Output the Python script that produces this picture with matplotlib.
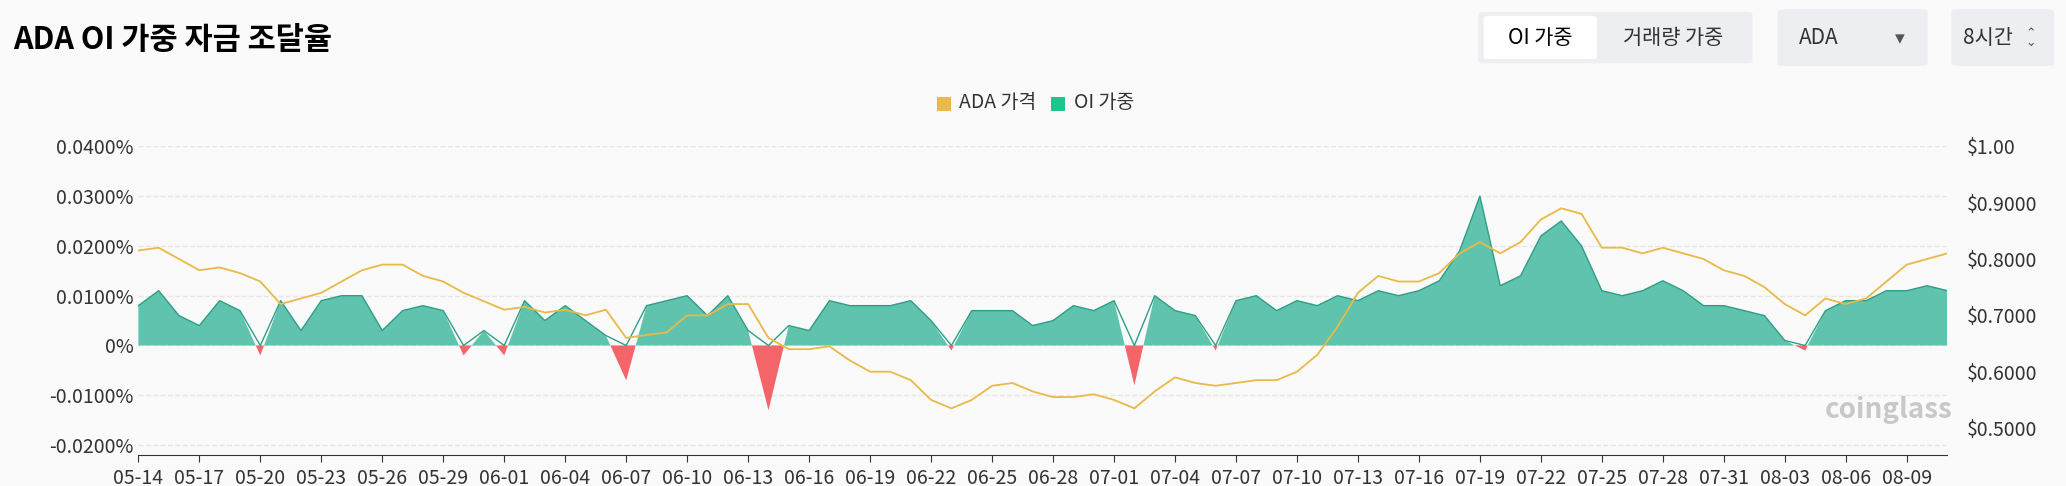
import matplotlib
matplotlib.use("Agg")
import matplotlib.pyplot as plt
import matplotlib.dates as mdates
from matplotlib import font_manager as fm
from matplotlib.patches import FancyBboxPatch, Rectangle
import numpy as np
import pandas as pd

fam = "DejaVu Sans"
for p in fm.findSystemFonts():
    if "CJK" in p and ("Regular" in p or "Bold" in p):
        try:
            fm.fontManager.addfont(p)
        except Exception:
            pass
names = {f.name for f in fm.fontManager.ttflist}
for cand in ["Noto Sans CJK KR", "Noto Sans CJK JP", "Noto Sans CJK SC"]:
    if cand in names:
        fam = cand
        break
plt.rcParams["font.family"] = [fam, "DejaVu Sans"]

start = "2024-05-14"
funding = [0.008,0.011,0.006,0.004,0.009,0.007,-0.002,0.009,0.003,0.009,0.010,0.010,0.003,0.007,0.008,0.007,
           -0.002,0.003,-0.002,0.009,0.005,0.008,0.005,0.002,-0.007,0.008,0.009,0.010,0.006,0.010,0.003,-0.013,
           0.004,0.003,0.009,0.008,0.008,0.008,0.009,0.005,-0.001,0.007,0.007,0.007,0.004,0.005,0.008,0.007,
           0.009,-0.008,0.010,0.007,0.006,-0.001,0.009,0.010,0.007,0.009,0.008,0.010,0.009,0.011,0.010,0.011,
           0.013,0.019,0.030,0.012,0.014,0.022,0.025,0.020,0.011,0.010,0.011,0.013,0.011,0.008,0.008,0.007,
           0.006,0.001,-0.001,0.007,0.009,0.009,0.011,0.011,0.012,0.011]
price = [0.815,0.82,0.80,0.78,0.785,0.775,0.76,0.72,0.73,0.74,0.76,0.78,0.79,0.79,0.77,0.76,0.74,0.725,0.71,
         0.715,0.705,0.71,0.70,0.71,0.66,0.665,0.67,0.70,0.70,0.72,0.72,0.66,0.64,0.64,0.645,0.62,0.60,0.60,
         0.585,0.55,0.535,0.55,0.575,0.58,0.565,0.555,0.555,0.56,0.55,0.535,0.565,0.59,0.58,0.575,0.58,0.585,
         0.585,0.60,0.63,0.68,0.74,0.77,0.76,0.76,0.775,0.81,0.83,0.81,0.83,0.87,0.89,0.88,0.82,0.82,0.81,
         0.82,0.81,0.80,0.78,0.77,0.75,0.72,0.70,0.73,0.72,0.73,0.76,0.79,0.80,0.81]
dates = pd.date_range(start, periods=len(funding), freq="D")
left_ticks = [-0.02, -0.01, 0, 0.01, 0.02, 0.03, 0.04]
right_ticks = [0.5, 0.6, 0.7, 0.8, 0.9, 1.0]
right_labels = ["$0.5000", "$0.6000", "$0.7000", "$0.8000", "$0.9000", "$1.00"]

W, H = 2066, 486
S = W / 1568.0  # layout measured on a 1568-wide view
fig = plt.figure(figsize=(W/100, H/100), dpi=100)
fig.patch.set_facecolor("#fafafa")

def fx(x): return x * S / W
def fy(y): return 1 - y * S / H

ax = fig.add_axes([fx(105), fy(345), fx(1478) - fx(105), fy(111) - fy(345)])
ax.set_facecolor("#fafafa")
ax.set_axisbelow(True)
f = np.array(funding)
ax.fill_between(dates, 0, f, where=f >= 0, interpolate=True, color="#5fc3ad", linewidth=0, zorder=2)
ax.fill_between(dates, 0, f, where=f <= 0, interpolate=True, color="#f4656a", linewidth=0, zorder=2)
ax.plot(dates, np.maximum(f, 0), color="#2f9e86", lw=1.0, zorder=3)
ax.set_ylim(-0.0219, 0.04)
ax.set_yticks(left_ticks)
ax.set_yticklabels(["0%" if v == 0 else f"{v:.4f}%" for v in left_ticks])
ax.grid(axis="y", color="#e6e6e6", ls="--", lw=1.0, zorder=0)
ax.set_xlim(dates[0], dates[-1])
ax.set_xticks(pd.date_range(start, dates[-1], freq="3D"))
ax.xaxis.set_major_formatter(mdates.DateFormatter("%m-%d"))
for s in ["top", "right", "left"]:
    ax.spines[s].set_visible(False)
ax.spines["bottom"].set_color("#333333")
ax.tick_params(axis="both", labelsize=14, colors="#333333", length=0)
ax.tick_params(axis="x", length=5, pad=5)

ax2 = ax.twinx()
ax2.plot(dates, price, color="#e9b949", lw=1.3)
ax2.set_ylim(0.453, 1.0)
ax2.set_yticks(right_ticks)
ax2.set_yticklabels(right_labels)
for s in ["top", "right", "left", "bottom"]:
    ax2.spines[s].set_visible(False)
ax2.tick_params(axis="y", labelsize=14, colors="#333333", length=0, pad=14)

# header
fig.text(fx(10), fy(30), "ADA OI 가중 자금 조달율", fontsize=22, fontweight="bold", va="center")
def box(x0, y0, x1, y1, fc, r=8):
    fig.patches.append(FancyBboxPatch((fx(x0), fy(y1)), fx(x1) - fx(x0), fy(y0) - fy(y1),
                        boxstyle=f"round,pad=0,rounding_size={r/W}", transform=fig.transFigure,
                        fc=fc, ec="none"))
box(1122, 9, 1330, 48, "#eceef1")
box(1126, 12, 1212, 45, "#ffffff")
fig.text(fx(1169), fy(29), "OI 가중", fontsize=15, ha="center", va="center")
fig.text(fx(1270), fy(29), "거래량 가중", fontsize=15, ha="center", va="center", color="#333")
box(1349, 7, 1463, 50, "#eceef1")
fig.text(fx(1365), fy(29), "ADA", fontsize=15, va="center", color="#333")
fig.text(fx(1442), fy(29), "▾", fontsize=14, ha="center", va="center", color="#555")
box(1481, 7, 1559, 50, "#eceef1")
fig.text(fx(1490), fy(29), "8시간", fontsize=15, va="center", color="#333")
fig.text(fx(1541), fy(29), "⌃\n⌄", fontsize=9, ha="center", va="center", color="#555", linespacing=0.6)

# legend
fig.patches.append(Rectangle((fx(711), fy(84)), 14/W, 14/H, transform=fig.transFigure, fc="#e9b949", ec="none"))
fig.text(fx(728), fy(78), "ADA 가격", fontsize=14, va="center", color="#333")
fig.patches.append(Rectangle((fx(798), fy(84)), 14/W, 14/H, transform=fig.transFigure, fc="#1fc68b", ec="none"))
fig.text(fx(815), fy(78), "OI 가중", fontsize=14, va="center", color="#333")

fig.text(fx(1385), fy(311), "coinglass", fontsize=20, fontweight="bold", color="#c8c8c8", va="center")

fig.savefig("out.png", dpi=100, facecolor=fig.get_facecolor())
